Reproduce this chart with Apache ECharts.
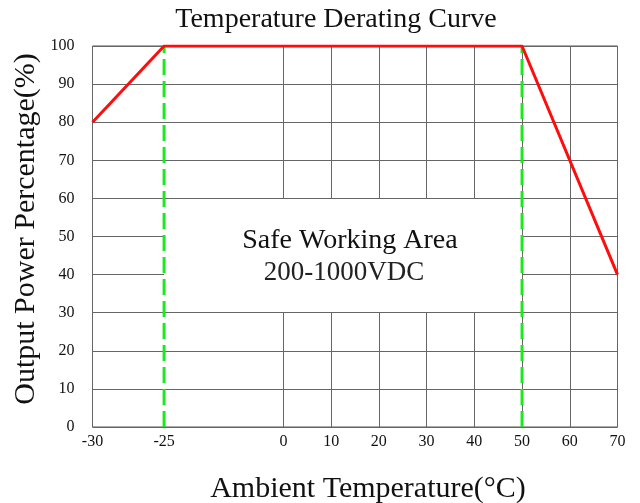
<!DOCTYPE html>
<html>
<head>
<meta charset="utf-8">
<script src="https://cdn.jsdelivr.net/npm/echarts@6/dist/echarts.min.js"></script>
<style>html,body{margin:0;padding:0;background:#fff}#c{width:640px;height:503px}</style>
</head>
<body>
<div id="c"></div>
<script>
// ---- data ----
const xTickTemps = [-30, -25, 0, 10, 20, 30, 40, 50, 60, 70];
const xGridTemps = [-30, 0, 10, 20, 30, 40, 50, 60, 70];
const curveTemps = [-30, -25, 50, 70];
const curvePower = [80, 100, 100, 40];
const safeTemps = [-25, 50];
const safeBoxPower = [30, 60];
const safeLinePower = [0, 100];
const yMin = 0, yMax = 100, yStep = 10;

// axis uses a stretched segment below -25 °C (as in the original drawing)
const BREAK_T = -25, STRETCH = 3;
function toAxis(t) { return t >= BREAK_T ? t : BREAK_T + STRETCH * (t - BREAK_T); }

const serif = '"Liberation Serif", "Times New Roman", serif';
const chart = echarts.init(document.getElementById('c'), null, { renderer: 'canvas' });

const curveData = curveTemps.map((t, i) => [toAxis(t), curvePower[i]]);
const safeSeries = safeTemps.map(t => ({
  type: 'line', symbol: 'none', silent: true, z: 3,
  data: safeLinePower.map(p => [toAxis(t), p]),
  lineStyle: { color: '#19ea19', width: 3, type: [16, 6] }
}));

chart.setOption({
  animation: false,
  grid: { left: 92.5, right: 22.5, top: 46, bottom: 76, show: true, borderColor: '#555', borderWidth: 1, backgroundColor: '#fff' },
  xAxis: {
    type: 'value', min: toAxis(xTickTemps[0]), max: toAxis(xTickTemps[xTickTemps.length - 1]),
    axisLine: { show: false },
    axisTick: { show: false, customValues: xGridTemps.map(toAxis) },
    splitLine: { show: true, lineStyle: { color: '#666', width: 1 } },
    axisLabel: {
      customValues: xTickTemps.map(toAxis), margin: 7,
      fontFamily: serif, fontSize: 16, color: '#111',
      formatter: v => { const i = xTickTemps.findIndex(t => Math.abs(toAxis(t) - v) < 1e-6); return i >= 0 ? String(xTickTemps[i]) : ''; }
    }
  },
  yAxis: {
    type: 'value', min: yMin, max: yMax, interval: yStep,
    axisLine: { show: false }, axisTick: { show: false },
    splitLine: { show: true, lineStyle: { color: '#666', width: 1 } },
    axisLabel: { margin: 18, fontFamily: serif, fontSize: 16, color: '#111' }
  },
  series: [
    {
      type: 'line', symbol: 'none', silent: true, z: 4,
      data: curveData,
      lineStyle: { color: '#ff0d0d', width: 3 },
      markArea: {
        silent: true, z: 1,
        itemStyle: { color: '#fff', borderWidth: 0 },
        data: [[{ xAxis: toAxis(safeTemps[0]), yAxis: safeBoxPower[0] }, { xAxis: toAxis(safeTemps[1]), yAxis: safeBoxPower[1] }]]
      },
      markLine: {
        silent: true, z: 1, symbol: 'none', label: { show: false },
        lineStyle: { color: '#666', width: 1, type: 'solid' },
        data: safeBoxPower.map(p => [{ coord: [toAxis(safeTemps[0]), p] }, { coord: [toAxis(safeTemps[1]), p] }])
      }
    },
    ...safeSeries
  ],
  graphic: [
    { type: 'text', x: 336, y: 20, style: { text: 'Temperature Derating Curve', font: '28px ' + serif, fill: '#111', align: 'center', verticalAlign: 'middle' } },
    { type: 'text', x: 368, y: 489, style: { text: 'Ambient Temperature(°C)', font: '30px ' + serif, fill: '#111', align: 'center', verticalAlign: 'middle' } },
    { type: 'text', x: 26, y: 229, rotation: Math.PI / 2, style: { text: 'Output Power Percentage(%)', font: '30px ' + serif, fill: '#111', align: 'center', verticalAlign: 'middle' } },
    { type: 'text', x: 350, y: 241, z: 10, style: { text: 'Safe Working Area', font: '28px ' + serif, fill: '#111', align: 'center', verticalAlign: 'middle' } },
    { type: 'text', x: 344, y: 273, z: 10, style: { text: '200-1000VDC', font: '27px ' + serif, fill: '#222', align: 'center', verticalAlign: 'middle' } }
  ]
});
</script>
</body>
</html>
